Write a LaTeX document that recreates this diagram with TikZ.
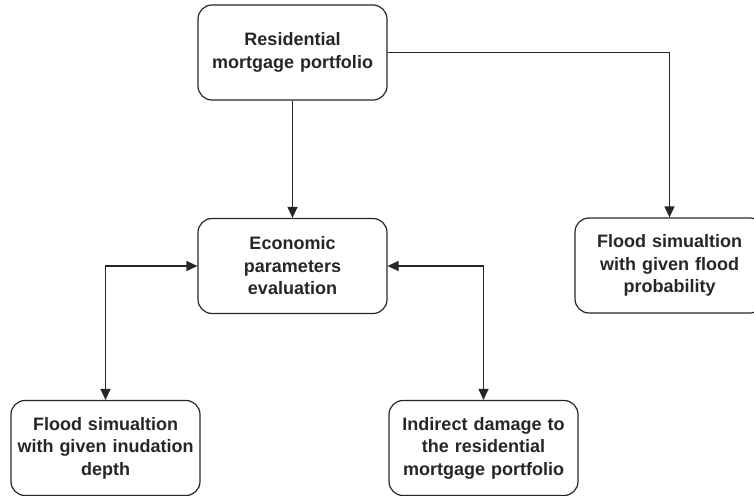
\documentclass[tikz,border=0pt]{standalone}
\usepackage{fontspec}
\setmainfont{Liberation Sans}
\usetikzlibrary{arrows.meta}
\begin{document}
\begin{tikzpicture}[x=1pt,y=-1pt,
  box/.style={draw=black!85, line width=1.2pt, rounded corners=14pt,
    minimum width=189pt, minimum height=95pt, inner sep=0pt,
    align=center, text width=188pt, text=black!85,
    font=\bfseries\fontsize{18}{22.5}\selectfont},
  tip/.tip={Triangle[length=11pt,width=10pt]},
  link/.style={draw=black!85, line width=1.2pt, -tip},
  twoway/.style={draw=black!85, line width=1.2pt, tip-tip}]
  \useasboundingbox (0,0) rectangle (754,495);

  % boxes
  \node[box] (rmp) at (292.5,52.5) {Residential\\mortgage portfolio};
  \node[box] (epe) at (292.5,266) {Economic\\parameters\\evaluation};
  \node[box] (ffp) at (669.5,265.5) {Flood simualtion\\with given flood\\probability};
  \node[box] (fid) at (105.5,448) {Flood simualtion\\with given inudation\\depth};
  \node[box] (idr) at (483.5,448) {Indirect damage to\\the residential\\mortgage portfolio};

  % connectors
  \draw[link] (rmp) -- (epe);
  \draw[link] (rmp.east) -| (ffp.north);
  \draw[twoway] (fid.north) |- (epe.west);
  \draw[twoway] (idr.north) |- (epe.east);
\end{tikzpicture}
\end{document}
